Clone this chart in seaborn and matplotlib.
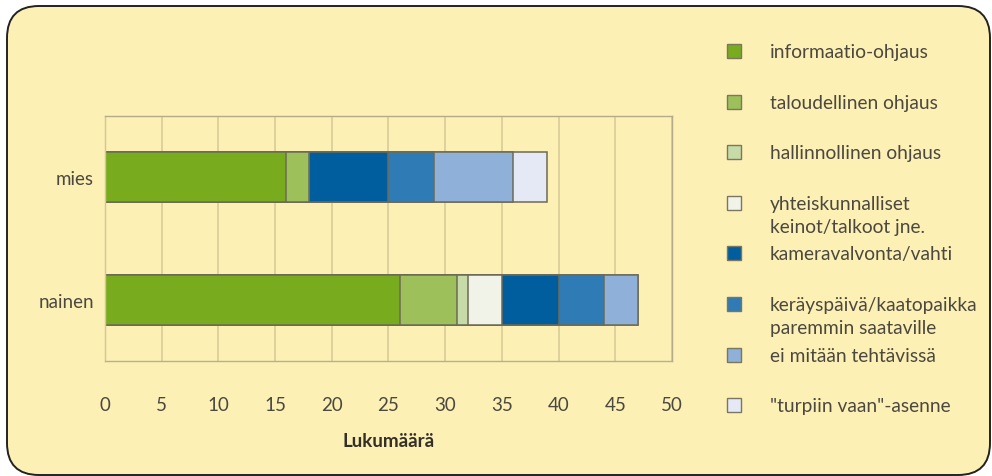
import matplotlib
matplotlib.use("Agg")
import matplotlib.pyplot as plt
import seaborn as sns
from matplotlib.patches import FancyBboxPatch, Rectangle
from matplotlib.ticker import MultipleLocator, FixedLocator

# data
categories = ["mies", "nainen"]
informaatio = [16, 26]
taloudellinen = [2, 5]
hallinnollinen = [0, 1]
yhteiskunnalliset = [0, 3]
kameravalvonta = [7, 5]
kerayspaiva = [4, 4]
ei_mitaan = [7, 3]
turpiin = [3, 0]

labels = ["informaatio-ohjaus", "taloudellinen ohjaus", "hallinnollinen ohjaus",
          "yhteiskunnalliset\nkeinot/talkoot jne.", "kameravalvonta/vahti",
          "keräyspäivä/kaatopaikka\nparemmin saataville", "ei mitään tehtävissä",
          "\"turpiin vaan\"-asenne"]
series = [informaatio, taloudellinen, hallinnollinen, yhteiskunnalliset,
          kameravalvonta, kerayspaiva, ei_mitaan, turpiin]
colors = ["#79ab1f", "#9dc05b", "#c7dba9", "#f1f3e9", "#005e9f", "#2f7bb6",
          "#8fb0d8", "#e4e9f5"]

sns.set_style("white")
plt.rcParams["font.family"] = ["Lato", "DejaVu Sans"]
text_col = "#4a4840"
bg = "#fdf0b4"

fig = plt.figure(figsize=(9.92, 4.77), dpi=100)
fig.patch.set_facecolor("white")
box = FancyBboxPatch((7, 1), 983, 469, boxstyle="round,pad=0,rounding_size=32",
                     transform=None, facecolor=bg, edgecolor="#222222", linewidth=1.4,
                     zorder=-5)
fig.patches.append(box)

ax = fig.add_axes([0.1058, 0.2411, 0.5716, 0.5136])
ax.set_facecolor("none")

# stacked bars: draw cumulative totals from the largest down
edge = "#6e6a55"
for i in reversed(range(len(series))):
    cum = [sum(s[j] for s in series[:i + 1]) for j in range(len(categories))]
    sns.barplot(x=cum, y=categories, orient="h", color=colors[i], saturation=1,
                width=0.41, edgecolor=edge, linewidth=1.1, ax=ax)

ax.set_xlim(0, 50)
ax.set_ylim(1.5, -0.5)
ax.xaxis.set_major_locator(MultipleLocator(5))
ax.set_axisbelow(True)
ax.grid(axis="x", color="#d8cb97", linewidth=1.2)
ax.grid(axis="y", visible=False)
for side in ["top", "right", "left", "bottom"]:
    ax.spines[side].set_visible(True)
    ax.spines[side].set_linewidth(1.0)
ax.spines["top"].set_color("#b3ab8a")
ax.spines["right"].set_color("#b3ab8a")
ax.spines["left"].set_color("#d3c699")
ax.spines["bottom"].set_color("#b8b090")

ax.yaxis.set_minor_locator(FixedLocator([-0.5, 0.5, 1.5]))
ax.tick_params(axis="y", which="major", length=0, pad=8, labelsize=13.5, labelcolor=text_col)
ax.tick_params(axis="y", which="minor", length=6, color="#c8bd95", width=1)
ax.tick_params(axis="x", length=7, color="#c8bd95", width=1, pad=18,
               labelsize=13.5, labelcolor=text_col)
ax.set_ylabel("")
ax.set_xlabel("Lukumäärä", fontsize=13.5, fontweight="bold", color="#333028", labelpad=14)

# legend drawn by hand to keep the reference spacing
H = 477
line_px = 23
for k, (lab, col) in enumerate(zip(labels, colors)):
    yc = 52 + k * 50.6
    fig.patches.append(Rectangle((727, H - yc - 7), 14, 14, transform=None,
                                 facecolor=col, edgecolor="#7a7660", linewidth=1.0))
    for n, line in enumerate(lab.split("\n")):
        fig.text(770 / 992, (H - yc - 6 - n * line_px) / H, line, ha="left",
                 va="baseline", fontsize=13.8, color=text_col)

fig.savefig("out.png", dpi=100, facecolor="white")
